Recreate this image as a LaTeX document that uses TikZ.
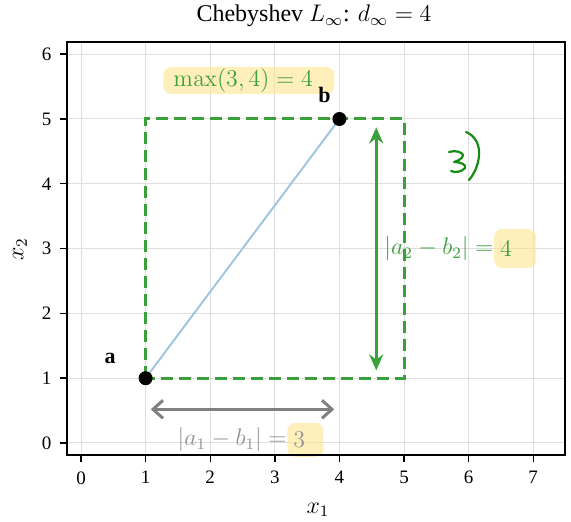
\documentclass[tikz,border=0pt]{standalone}
\usepackage[no-math]{fontspec}
\setmainfont{Liberation Serif}
\usetikzlibrary{arrows.meta}
\definecolor{grn}{RGB}{58,160,58}
\definecolor{lblue}{RGB}{160,198,224}
\definecolor{hl}{RGB}{255,228,140}
\definecolor{pen}{RGB}{20,140,20}
\definecolor{gridc}{RGB}{222,222,222}
\begin{document}
\begin{tikzpicture}[
  tick/.style={font=\fontsize{9.5}{11}\selectfont},
  hlbox/.style={fill=hl,fill opacity=0.6,text opacity=1,rounded corners=4pt,inner sep=0pt},
  dot/.style={circle,fill=black,inner sep=0pt,minimum size=7pt},
  lab/.style={font=\fontsize{12}{14}\selectfont},
]
\useasboundingbox (0,0) rectangle (285.5pt,261pt);
\begin{scope}[x=32.3pt,y=32.4pt,shift={(40.5pt,39.5pt)}]
  % grid
  \foreach \i in {0,...,7} \draw[gridc,line width=0.5pt] (\i,-0.19) -- (\i,6.19);
  \foreach \j in {0,...,6} \draw[gridc,line width=0.5pt] (-0.21,\j) -- (7.49,\j);
  % ticks and labels
  \foreach \i in {0,...,7} {
    \draw[line width=0.7pt] (\i,-0.19) -- ++(0,-3.5pt);
    \node[tick,anchor=north] (xt\i) at ([yshift=-4.5pt]\i,-0.19) {\i};
  }
  \foreach \j in {0,...,6} {
    \draw[line width=0.7pt] (-0.21,\j) -- ++(-3.5pt,0);
    \node[tick,anchor=east] (yt\j) at ([xshift=-4.5pt]-0.21,\j) {\j};
  }
  % labels with highlight boxes
  \node[hlbox,lab,text=grn,anchor=west,minimum height=13.5pt] (mx) at (1.27,5.594) {\makebox[85.5pt][l]{\hspace{5pt}$\max(3,4) = 4$}};
  \node[lab,text=grn,anchor=east,inner sep=0pt] (l2a) at (6.39,3) {$|a_2 - b_2| =$};
  \node[hlbox,lab,text=grn,anchor=west,minimum height=19.5pt] (l2b) at (l2a.east) {\makebox[21pt][l]{\hspace{3pt}$4$}};
  \node[lab,text=gray!85,anchor=east,inner sep=0pt] (l1a) at (3.19,0.05) {$|a_1 - b_1| =$};
  \node[hlbox,lab,text=gray!85,anchor=west,minimum height=17pt] (l1b) at (l1a.east) {\makebox[18pt][l]{\hspace{3pt}$3$}};
  % rectangle
  \coordinate (a) at (1,1);
  \coordinate (b) at (4,5);
  \draw[grn,line width=1.5pt,dash pattern=on 6pt off 3pt] (1,1) rectangle (5,5);
  \draw[lblue,line width=1pt] (a) -- (b);
  \node[dot] (pa) at (a) {};
  \node[dot] (pb) at (b) {};
  \node[font=\bfseries\fontsize{11}{12}\selectfont] (la) at (0.45,1.3) {a};
  \node[font=\bfseries\fontsize{11}{12}\selectfont] (lb) at (3.77,5.37) {b};
  % arrows
  \coordinate (v1) at (4.57,4.87);
  \coordinate (v2) at (4.57,1.12);
  \draw[grn,line width=1.5pt,{Stealth[length=8pt,width=7pt]}-{Stealth[length=8pt,width=7pt]}] (v1) -- (v2);
  \coordinate (h1) at (1.08,0.52);
  \coordinate (h2) at (3.92,0.52);
  \draw[gray,line width=1.5pt,{Straight Barb[length=5pt,width=9pt]}-{Straight Barb[length=5pt,width=9pt]}] (h1) -- (h2);
  % frame
  \draw[line width=1pt] (-0.21,-0.19) rectangle (7.49,6.19);
\end{scope}
% title and axis labels
\node[lab] (title) at (157pt,253pt) {Chebyshev $L_\infty$: $d_\infty = 4$};
\node[lab] (xl) at (159pt,6pt) {$x_1$};
\node[lab,rotate=90] (yl) at (10pt,136.5pt) {$x_2$};
% handwritten mark
\begin{scope}[x=0.5pt,y=-0.5pt,yshift=261pt]
  \draw[pen,line width=1.1pt,line cap=round,line join=round]
    (449,152) .. controls (455,150) and (462,152) .. (463,155)
    .. controls (463,159) and (457,161) .. (454,162)
    .. controls (461,162) and (467,165) .. (465,168)
    .. controls (462,172) and (455,173) .. (451,171);
  \draw[pen,line width=1.1pt,line cap=round]
    (466,132) .. controls (476,136) and (480,146) .. (479,156)
    .. controls (478,166) and (474,174) .. (469,180);
\end{scope}
\end{tikzpicture}
\end{document}
